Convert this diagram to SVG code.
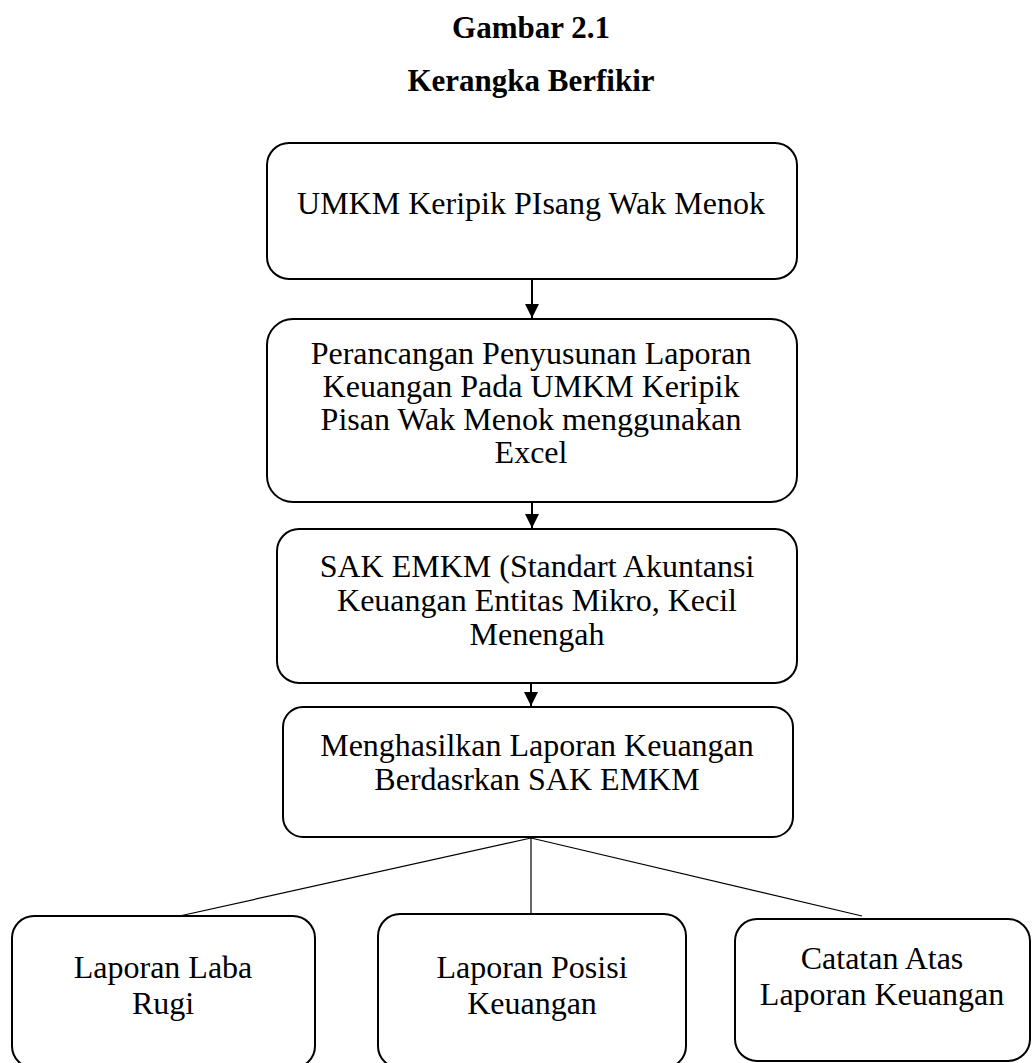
<svg xmlns="http://www.w3.org/2000/svg" width="1033" height="1063" viewBox="0 0 1033 1063">
  <style>
    .box { fill: #ffffff; stroke: #000000; stroke-width: 2; }
    .t { font-family: "Liberation Serif", "Times New Roman", serif; font-size: 32px; fill: #000000; text-anchor: middle; }
    .title { font-family: "Liberation Serif", "Times New Roman", serif; font-size: 31px; font-weight: bold; fill: #000000; text-anchor: middle; }
    .arrow { stroke: #000000; stroke-width: 2; fill: none; }
    .fan { stroke: #000000; stroke-width: 1.2; fill: none; }
  </style>
  <defs>
    <marker id="tri" viewBox="0 0 14 14" refX="14" refY="7" markerWidth="14" markerHeight="14" orient="auto" markerUnits="userSpaceOnUse">
      <path d="M0,0 L14,7 L0,14 Z" fill="#000000"/>
    </marker>
  </defs>
  <rect width="1033" height="1063" fill="#ffffff"/>

  <g id="title">
    <text class="title" x="531" y="38">Gambar 2.1</text>
    <text class="title" x="531" y="91">Kerangka Berfikir</text>
  </g>

  <g id="connectors">
    <line class="arrow" x1="532" y1="279" x2="532" y2="318" marker-end="url(#tri)"/>
    <line class="arrow" x1="532" y1="487" x2="532" y2="528" marker-end="url(#tri)"/>
    <line class="arrow" x1="531" y1="675" x2="531" y2="706" marker-end="url(#tri)"/>
    <line class="fan" x1="531" y1="838" x2="175" y2="917"/>
    <line class="fan" x1="531" y1="838" x2="531" y2="914"/>
    <line class="fan" x1="531" y1="838" x2="862" y2="916"/>
  </g>

  <g id="node1">
    <rect class="box" x="267" y="143" width="530" height="136" rx="22" ry="22"/>
    <text class="t" x="531" y="214">UMKM Keripik PIsang Wak Menok</text>
  </g>

  <g id="node2">
    <rect class="box" x="267" y="319" width="530" height="183" rx="26" ry="26"/>
    <text class="t" x="531" y="364">Perancangan Penyusunan Laporan</text>
    <text class="t" x="531" y="397">Keuangan Pada UMKM Keripik</text>
    <text class="t" x="531" y="430">Pisan Wak Menok menggunakan</text>
    <text class="t" x="531" y="463">Excel</text>
  </g>

  <g id="node3">
    <rect class="box" x="277" y="529" width="520" height="154" rx="22" ry="22"/>
    <text class="t" x="537" y="577">SAK EMKM (Standart Akuntansi</text>
    <text class="t" x="537" y="611">Keuangan Entitas Mikro, Kecil</text>
    <text class="t" x="537" y="645">Menengah</text>
  </g>

  <g id="node4">
    <rect class="box" x="283" y="707" width="510" height="130" rx="20" ry="20"/>
    <text class="t" x="537" y="756">Menghasilkan Laporan Keuangan</text>
    <text class="t" x="537" y="790">Berdasrkan SAK EMKM</text>
  </g>

  <g id="node5">
    <rect class="box" x="12" y="916" width="303" height="152" rx="22" ry="22"/>
    <text class="t" x="163" y="978">Laporan Laba</text>
    <text class="t" x="163" y="1014">Rugi</text>
  </g>

  <g id="node6">
    <rect class="box" x="378" y="914" width="308" height="154" rx="22" ry="22"/>
    <text class="t" x="532" y="978">Laporan Posisi</text>
    <text class="t" x="532" y="1014">Keuangan</text>
  </g>

  <g id="node7">
    <rect class="box" x="735" y="919" width="295" height="142" rx="22" ry="22"/>
    <text class="t" x="882" y="969">Catatan Atas</text>
    <text class="t" x="882" y="1005">Laporan Keuangan</text>
  </g>
</svg>
